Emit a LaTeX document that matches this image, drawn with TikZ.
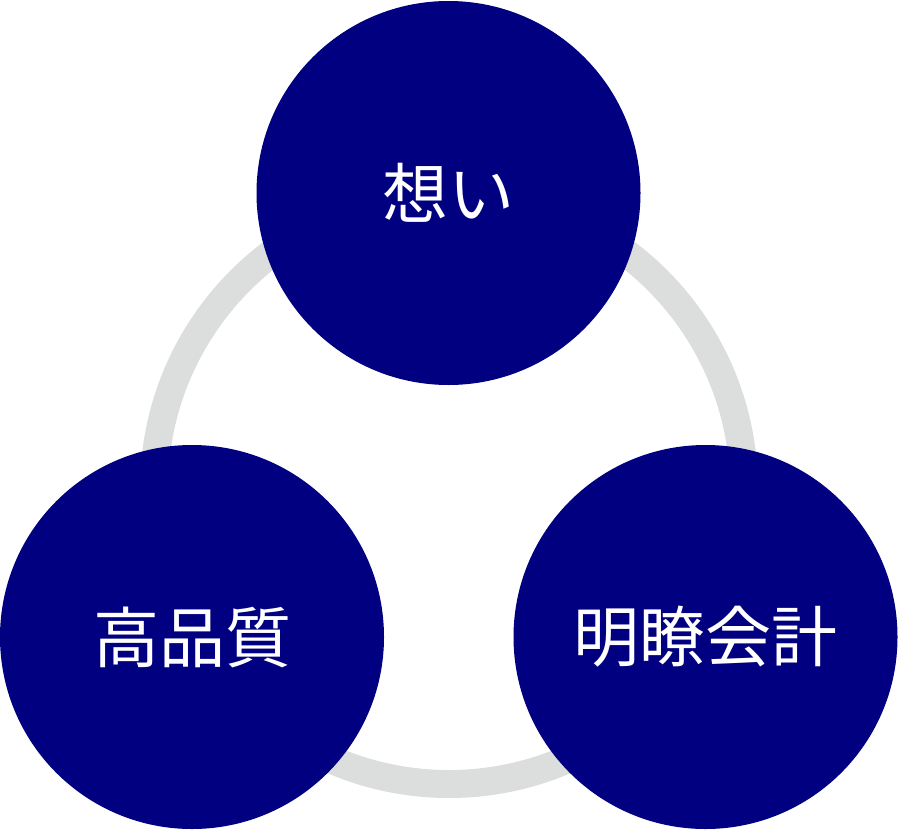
\documentclass[tikz,border=0pt]{standalone}
\usepackage{fontspec}
\newfontfamily\jpfont{Noto Sans CJK JP}
\definecolor{navyblue}{RGB}{0,0,128}
\definecolor{ringgray}{RGB}{220,221,221}
\begin{document}
\begin{tikzpicture}[x=0.5pt,y=-0.5pt]
    \tikzset{% This is the style settings for nodes
    val/.style={circle,minimum size=192pt,inner sep=0pt,outer sep=0pt,fill=navyblue,text=white,font=\jpfont\fontsize{33pt}{36pt}\selectfont},
    ring/.style={circle,minimum size=295pt,inner sep=0pt,draw=ringgray,line width=14pt},
    }
    \useasboundingbox (0,0) rectangle (898,829);

    % Ring
    \node[ring] (r) at (449,489) {};

    % Nodes
    \node[val] (v1) at (448.5,193) {想い};
    \node[val] (v2) at (192,637) {高品質};
    \node[val] (v3) at (705.5,637) {明瞭会計};

\end{tikzpicture}
\end{document}
